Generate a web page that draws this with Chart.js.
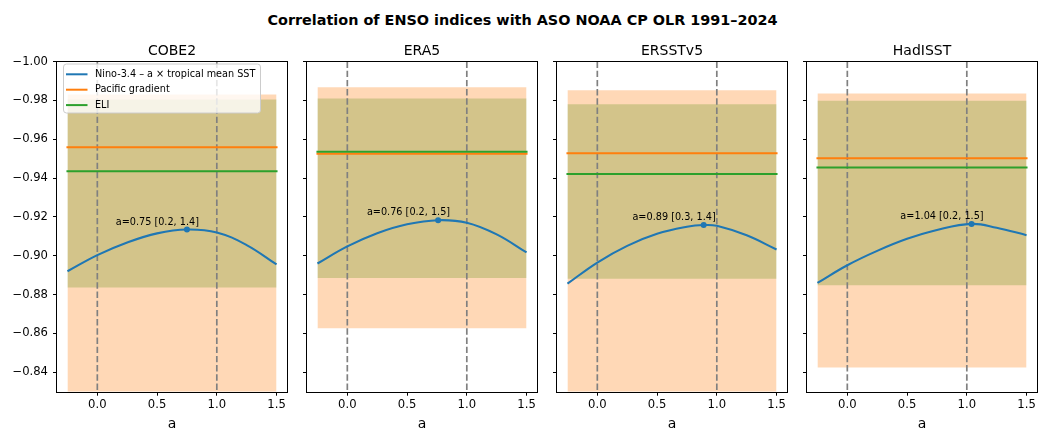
<!DOCTYPE html>
<html>
<head>
<meta charset="utf-8">
<script src="https://cdn.jsdelivr.net/npm/chart.js@4.4.1/dist/chart.umd.min.js"></script>
<style>
  body { margin: 0; background: #fff; width: 1039px; height: 434px; position: relative; overflow: hidden; font-family: "DejaVu Sans", sans-serif; }
  #title { position: absolute; left: 3px; width: 1039px; top: 13px; line-height: 14px; text-align: center; font-weight: bold; font-size: 14.4px; color: #000; }
  canvas { position: absolute; top: 30px; }
</style>
</head>
<body>
<div id="title">Correlation of ENSO indices with ASO NOAA CP OLR 1991–2024</div>
<canvas id="c0" width="299" height="404" style="left:0px"></canvas>
<canvas id="c1" width="299" height="404" style="left:250px"></canvas>
<canvas id="c2" width="299" height="404" style="left:500px"></canvas>
<canvas id="c3" width="299" height="404" style="left:750px"></canvas>
<script>
// data
const panelNames = ['COBE2', 'ERA5', 'ERSSTv5', 'HadISST'];
const aGrid = [-0.25, 0, 0.25, 0.5, 0.75, 1.0, 1.25, 1.5];
const ninoCurve = [
  [-0.892, -0.9003, -0.9068, -0.9115, -0.9135, -0.912, -0.9055, -0.8955],
  [-0.896, -0.9048, -0.9116, -0.9162, -0.9182, -0.917, -0.911, -0.9017],
  [-0.8856, -0.8965, -0.9051, -0.9113, -0.9149, -0.9154, -0.9105, -0.9032],
  [-0.886, -0.8951, -0.9025, -0.9087, -0.9133, -0.9161, -0.9144, -0.9106]
];
const bestA = [0.75, 0.76, 0.89, 1.04];
const bestR = [-0.9135, -0.9183, -0.9158, -0.9164];
const bestLo = [0.2, 0.2, 0.3, 0.2];
const bestHi = [1.4, 1.5, 1.4, 1.5];
const pacificR = [-0.9558, -0.9525, -0.9528, -0.9502];
const pacificLo = [-0.983, -0.9867, -0.9852, -0.9835];
const pacificHi = [-0.82, -0.8627, -0.82, -0.8425];
const eliR = [-0.9435, -0.9535, -0.9421, -0.9454];
const eliLo = [-0.9804, -0.9809, -0.978, -0.9798];
const eliHi = [-0.8837, -0.8885, -0.8882, -0.8848];
const refA = [0, 1];
const xTicks = [0, 0.5, 1.0, 1.5];
const yTicks = [-1.00, -0.98, -0.96, -0.94, -0.92, -0.90, -0.88, -0.86, -0.84];
const xMin = -0.3375, xMax = 1.5875;
const yMin = -1.00, yMax = -0.83;

const BLUE = '#1f77b4', ORANGE = '#ff7f0e', GREEN = '#2ca02c';
const FONT = 'DejaVu Sans';
Chart.defaults.font.family = FONT;
Chart.defaults.color = '#000';

const aMin = aGrid[0], aMax = aGrid[aGrid.length - 1];
const span = v => [{ x: aMin, y: v }, { x: aMax, y: v }];
const fmt = v => (v < 0 ? '\u2212' : '') + Math.abs(v).toFixed(2);

const decor = {
  id: 'decor',
  afterDatasetsDraw(chart) {
    const { ctx, chartArea: a } = chart;
    const i = chart.options.panelIndex;
    ctx.save();
    // frame
    ctx.strokeStyle = '#000';
    ctx.lineWidth = 1;
    ctx.strokeRect(Math.round(a.left) - 0.5, Math.round(a.top) - 0.5,
      Math.round(a.right) - Math.round(a.left) + 1, Math.round(a.bottom) - Math.round(a.top) + 1);
    // panel title
    ctx.fillStyle = '#000';
    ctx.font = '14px "' + FONT + '"';
    ctx.textAlign = 'center';
    ctx.textBaseline = 'alphabetic';
    ctx.fillText(panelNames[i], (a.left + a.right) / 2, a.top - 6.5);
    // annotation at the best a
    const pt = chart.getDatasetMeta(chart.data.datasets.length - 1).data[0];
    ctx.font = '9.7px "' + FONT + '"';
    ctx.textAlign = 'right';
    ctx.fillText('a=' + bestA[i].toFixed(2) + ' [' + bestLo[i].toFixed(1) + ', ' + bestHi[i].toFixed(1) + ']', pt.x + 12, pt.y - 5);
    // legend (first panel only)
    if (i === 0) {
      const items = chart.data.datasets.filter(d => d.label);
      items.sort((p, q) => p.legendPos - q.legendPos);
      const bx = a.left + 6.5, by = a.top + 2.5, bw = 197, bh = 49;
      ctx.beginPath();
      ctx.roundRect(bx, by, bw, bh, 3);
      ctx.fillStyle = 'rgba(255,255,255,0.8)';
      ctx.fill();
      ctx.strokeStyle = '#cccccc';
      ctx.lineWidth = 1;
      ctx.stroke();
      ctx.textAlign = 'left';
      ctx.textBaseline = 'middle';
      items.forEach((d, k) => {
        const y = a.top + 12.8 + k * 15.4;
        ctx.strokeStyle = d.borderColor;
        ctx.lineWidth = 2;
        ctx.beginPath();
        ctx.moveTo(a.left + 9, y);
        ctx.lineTo(a.left + 30.5, y);
        ctx.stroke();
        ctx.fillStyle = '#000';
        ctx.fillText(d.label, a.left + 38, y);
      });
    }
    ctx.restore();
  }
};

function makeChart(i) {
  const curve = aGrid.map((a, k) => ({ x: a, y: ninoCurve[i][k] }))
    .filter(p => Math.abs(p.x - bestA[i]) > 0.06);
  curve.push({ x: bestA[i], y: bestR[i] });
  curve.sort((p, q) => p.x - q.x);
  const none = 'rgba(0,0,0,0)';
  const datasets = [
    { data: span(eliLo[i]), borderColor: none, borderWidth: 0, pointRadius: 0, fill: false, order: 20 },
    { data: span(eliHi[i]), borderColor: none, borderWidth: 0, pointRadius: 0, fill: '-1', backgroundColor: 'rgba(44,160,44,0.3)', order: 19 },
    { data: span(pacificLo[i]), borderColor: none, borderWidth: 0, pointRadius: 0, fill: false, order: 18 },
    { data: span(pacificHi[i]), borderColor: none, borderWidth: 0, pointRadius: 0, fill: '-1', backgroundColor: 'rgba(255,127,14,0.3)', order: 17 }
  ];
  refA.forEach((v, k) => datasets.push({
    data: [{ x: v, y: yMin }, { x: v, y: yMax }], borderColor: '#808080', borderWidth: 1.7,
    borderDash: [6.4, 2.8], pointRadius: 0, fill: false, order: 15 - k
  }));
  datasets.push(
    { label: 'Pacific gradient', legendPos: 1, data: span(pacificR[i]), borderColor: ORANGE, borderWidth: 2, borderCapStyle: 'square', pointRadius: 0, fill: false, order: 5 },
    { label: 'ELI', legendPos: 2, data: span(eliR[i]), borderColor: GREEN, borderWidth: 2, borderCapStyle: 'square', pointRadius: 0, fill: false, order: 4 },
    { label: 'Nino-3.4 \u2013 a \u00d7 tropical mean SST', legendPos: 0, data: curve, borderColor: BLUE, borderWidth: 2.1,
      tension: 0.4, pointRadius: 0, fill: false, order: 3 },
    { data: [{ x: bestA[i], y: bestR[i] }], showLine: false, pointRadius: 3, pointBackgroundColor: BLUE,
      pointBorderWidth: 0, borderColor: BLUE, order: 1 }
  );

  new Chart(document.getElementById('c' + i), {
    type: 'line',
    data: { datasets },
    plugins: [decor],
    options: {
      panelIndex: i,
      responsive: false,
      animation: false,
      events: [],
      layout: { padding: { top: 31.5, right: 12, bottom: 0, left: 0 } },
      plugins: { legend: { display: false }, tooltip: { enabled: false } },
      scales: {
        x: {
          type: 'linear', min: xMin, max: xMax,
          afterBuildTicks: s => { s.ticks = xTicks.map(v => ({ value: v })); },
          afterFit: s => { s.height = 42.3; },
          ticks: { callback: v => v.toFixed(1), font: { size: 11.6 }, color: '#000', padding: 2, maxRotation: 0 },
          grid: { drawOnChartArea: false, drawTicks: true, tickLength: 4, color: '#000', lineWidth: 1 },
          border: { display: false },
          title: { display: true, text: 'a', font: { size: 14 }, color: '#000', padding: { top: 0, bottom: 1.5 } }
        },
        y: {
          type: 'linear', min: yMin, max: yMax, reverse: true,
          afterBuildTicks: s => { s.ticks = yTicks.map(v => ({ value: v })); },
          afterFit: s => { s.width = 57; },
          ticks: { callback: v => (i === 0 ? fmt(v) : ''), font: { size: 11.6 }, color: '#000', padding: 5 },
          grid: { drawOnChartArea: false, drawTicks: true, tickLength: 4, color: '#000', lineWidth: 1 },
          border: { display: false }
        }
      }
    }
  });
}

panelNames.forEach((n, i) => makeChart(i));
</script>
</body>
</html>
